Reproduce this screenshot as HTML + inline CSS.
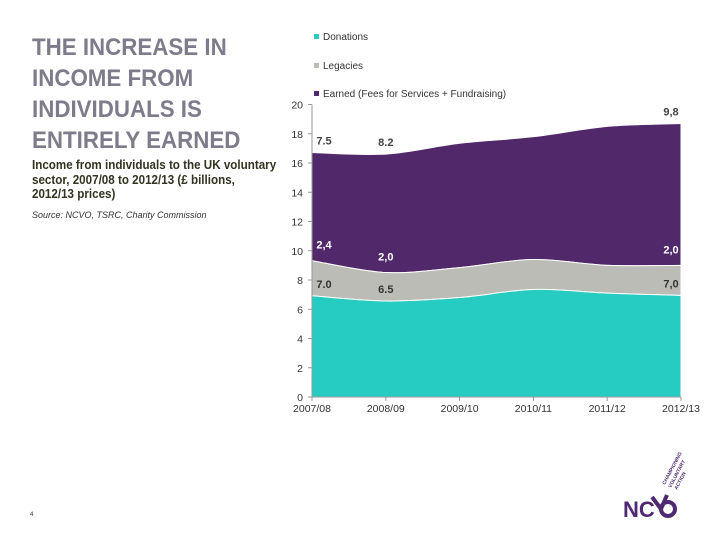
<!DOCTYPE html>
<html><head><meta charset="utf-8"><style>
body{margin:0;width:720px;height:540px;background:#fff;font-family:"Liberation Sans",sans-serif;position:relative;overflow:hidden}
.t{position:absolute;left:32px;top:32px;font-size:24px;line-height:31px;color:#7e7b8a;margin:0;font-weight:bold;transform:scaleX(0.93);transform-origin:0 0;white-space:nowrap}
.s{position:absolute;left:32px;top:158px;font-size:12.5px;line-height:14.5px;color:#332;font-weight:bold;transform:scaleX(0.93);transform-origin:0 0;white-space:nowrap}
.src{position:absolute;left:32px;top:210px;font-size:9px;font-style:italic;color:#333}
</style></head><body>
<h1 class="t">THE INCREASE IN<br>INCOME FROM<br>INDIVIDUALS IS<br>ENTIRELY EARNED</h1>
<div class="s">Income from individuals to the UK voluntary<br>sector, 2007/08 to 2012/13 (£ billions,<br>2012/13 prices)</div>
<div class="src">Source: NCVO, TSRC, Charity Commission</div>
<div style="position:absolute;left:30px;top:512px;font-size:6px;color:#333">4</div>
<svg id="c" width="720" height="540" style="position:absolute;left:0;top:0"></svg>
<svg width="90" height="100" style="position:absolute;left:615px;top:435px">
<text x="8" y="82" font-size="22" font-weight="bold" fill="#4f2a73" font-family="Liberation Sans">NC</text>
<path d="M37 62 L46 74 L52 60" stroke="#4f2a73" stroke-width="4" fill="none"/>
<circle cx="53" cy="74" r="7" stroke="#4f2a73" stroke-width="4" fill="none"/>
<text transform="translate(50,50) rotate(-62)" font-size="5" font-weight="bold" fill="#4f2a73">CHAMPIONING</text>
<text transform="translate(56,53) rotate(-62)" font-size="5" font-weight="bold" fill="#4f2a73">VOLUNTARY</text>
<text transform="translate(62,55) rotate(-62)" font-size="5" font-weight="bold" fill="#4f2a73">ACTION</text>
</svg>
<script>
const categories=["2007/08","2008/09","2009/10","2010/11","2011/12","2012/13"];
const donations=[6.92,6.56,6.8,7.35,7.1,6.95];
const legacies=[2.4,1.95,2.05,2.05,1.9,2.05];
const earned=[7.4,8.1,8.5,8.4,9.5,9.7];
const yTicks=[0,2,4,6,8,10,12,14,16,18,20];
const labelsDon=["7.0","6.5","","","","7,0"];
const labelsLeg=["2,4","2,0","","","","2,0"];
const labelsEarn=["7.5","8.2","","","","9,8"];
const svg=document.getElementById('c');const NS="http://www.w3.org/2000/svg";
const x0=312,x1=681,y0=397,y1=104.5;
const X=i=>x0+i*(x1-x0)/(categories.length-1);
const Y=v=>y0-(v/20)*(y0-y1);
function mk(t,a){const e=document.createElementNS(NS,t);for(const k in a)e.setAttribute(k,a[k]);svg.appendChild(e);return e;}
function curve(pts){let d="";for(let i=0;i<pts.length-1;i++){const p0=pts[Math.max(0,i-1)],p1=pts[i],p2=pts[i+1],p3=pts[Math.min(pts.length-1,i+2)];const c1=[p1[0]+(p2[0]-p0[0])/6,p1[1]+(p2[1]-p0[1])/6],c2=[p2[0]-(p3[0]-p1[0])/6,p2[1]-(p3[1]-p1[1])/6];d+=` C${c1[0]},${c1[1]} ${c2[0]},${c2[1]} ${p2[0]},${p2[1]}`;}return d;}
const s1=donations,s2=donations.map((v,i)=>v+legacies[i]),s3=s2.map((v,i)=>v+earned[i]);
const series=[[s3,s2,"#51296b","area-earned"],[s2,s1,"#bcbcb6","area-legacies"],[s1,null,"#26cbc1","area-donations"]];
series.forEach(([top,bot,col,name])=>{const tp=top.map((v,i)=>[X(i),Y(v)]);let d="M"+tp[0][0]+","+tp[0][1]+curve(tp);if(bot){const bp=bot.map((v,i)=>[X(i),Y(v)]).reverse();d+=" L"+bp[0][0]+","+bp[0][1]+curve(bp);}else{d+=` L${x1},${y0} L${x0},${y0}`;}d+="Z";const p=mk('path',{d:d,fill:col,stroke:'#fff','stroke-width':1});

});
const ax=mk('line',{x1:x0,y1:y1,x2:x0,y2:y0,stroke:'#999'});

const bx=mk('line',{x1:x0,y1:y0,x2:x1,y2:y0,stroke:'#999'});

yTicks.forEach(v=>{const t=mk('text',{x:x0-9,y:Y(v)+4,'font-size':10.5,'text-anchor':'end',fill:'#333'});t.textContent=v;

mk('line',{x1:x0-4,x2:x0,y1:Y(v),y2:Y(v),stroke:'#999'});});
categories.forEach((c,i)=>{const t=mk('text',{x:X(i),y:y0+15,'font-size':10.5,'text-anchor':'middle',fill:'#333'});t.textContent=c;

mk('line',{x1:X(i),x2:X(i),y1:y0,y2:y0+4,stroke:'#999'});});
function lab(arr,base,off,col,name){arr.forEach((s,i)=>{if(!s)return;const ax=i==0?X(i)+12:(i==arr.length-1?X(i)-10:X(i));const t=mk('text',{x:ax,y:Y(base[i])+off,'font-size':11,'text-anchor':'middle',fill:col,'font-weight':'bold'});t.textContent=s;
});}
lab(labelsDon,s1,-8,'#333','label-donations');
lab(labelsLeg,s2,-12,'#fff','label-legacies');
lab(labelsEarn,s3,-8,'#444','label-earned');
const leg=[["Donations","#26cbc1",39],["Legacies","#bcbcb6",68],["Earned (Fees for Services + Fundraising)","#51296b",96]];
leg.forEach(([n,c,y])=>{const r=mk('rect',{x:314,y:y-5,width:5,height:5,fill:c});
const t=mk('text',{x:323,y:y+1,'font-size':10,fill:'#333'});t.textContent=n;});
</script>
</body></html>
